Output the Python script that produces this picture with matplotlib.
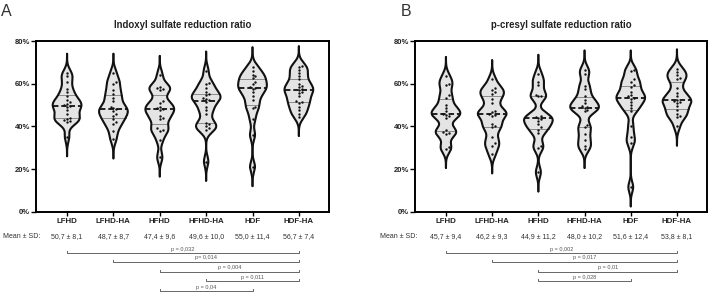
import numpy as np
import matplotlib.pyplot as plt
from matplotlib.transforms import blended_transform_factory

plt.rcParams['font.family'] = ['Liberation Sans', 'DejaVu Sans']

W, H = 709, 293

groups = ['LFHD', 'LFHD-HA', 'HFHD', 'HFHD-HA', 'HDF', 'HDF-HA']

# Panel A: indoxyl sulfate reduction ratio (%)
is_lfhd = [65, 63.5, 61, 57.5, 56, 54, 52.5, 51.5, 50.5, 50, 49.5, 49, 47.5, 46, 44, 43.5, 43, 42.5, 42, 35]
is_lfhd_ha = [65, 61, 60, 57, 55, 53.5, 52, 49, 48.5, 48, 47, 46, 45, 43.5, 42, 41, 38, 34]
is_hfhd = [64, 58.5, 58, 57.5, 57, 52, 51, 49, 48.5, 48, 47.5, 45, 44, 43.5, 39, 38.5, 38, 33.5, 25.5]
is_hfhd_ha = [66, 60.5, 60, 58, 56, 55, 54.5, 53.5, 53, 52.5, 51.5, 49, 47.5, 46, 41.5, 41, 40, 39, 38.5, 23.5]
is_hdf = [68, 66, 64, 63.5, 62.5, 61, 60, 58.5, 58, 57.5, 56, 54, 52.5, 49, 48.5, 43.5, 36, 21]
is_hdf_ha = [68.5, 68, 66.5, 65, 63.5, 62, 60, 59, 58.5, 57.5, 57, 56, 55.5, 54, 52, 51.5, 51, 49, 47.5, 46, 44.5]
is_mean_sd = ['50,7 ± 8,1', '48,7 ± 8,7', '47,4 ± 9,6', '49,6 ± 10,0', '55,0 ± 11,4', '56,7 ± 7,4']
is_pairs = [(1, 6), (2, 6), (3, 6), (4, 6), (3, 5)]
is_pvals = ['p = 0,032', 'p= 0,014', 'p = 0,004', 'p = 0,011', 'p = 0,04']

# Panel B: p-cresyl sulfate reduction ratio (%)
pcs_lfhd = [63.5, 60, 59.5, 54.5, 53.5, 50, 48.5, 47, 46, 45.5, 45, 44, 38.5, 37.5, 37, 36.5, 30.5, 29.5]
pcs_lfhd_ha = [62, 58, 57, 56, 55, 53, 51, 47, 46.5, 46, 45.5, 45, 41, 40, 39.5, 35, 32, 31, 27]
pcs_hfhd = [64.5, 61, 59.5, 54.5, 54, 54, 45, 44.5, 44, 43.5, 42.5, 41, 39.5, 38.5, 37, 31, 30, 18.5]
pcs_hfhd_ha = [66.5, 64.5, 59, 57.5, 54, 52.5, 51, 49.5, 49, 48.5, 47.5, 47, 40.5, 39.5, 36.5, 33.5, 31, 29.5]
pcs_hdf = [66.5, 66, 62, 61, 59.5, 58.5, 56, 54.5, 54, 53.5, 53, 51.5, 50, 48.5, 47, 40, 35, 32, 11.5]
pcs_hdf_ha = [67, 65.5, 64, 62.5, 62, 58, 55.5, 54, 52.5, 52, 51.5, 51, 49.5, 47.5, 46, 45, 44.5, 40]
pcs_mean_sd = ['45,7 ± 9,4', '46,2 ± 9,3', '44,9 ± 11,2', '48,0 ± 10,2', '51,6 ± 12,4', '53,8 ± 8,1']
pcs_pairs = [(1, 6), (2, 6), (3, 6), (3, 5)]
pcs_pvals = ['p = 0,002', 'p = 0,017', 'p = 0,01', 'p = 0,028']


def fx(px):
    return px / W


def fy(py):
    return 1 - py / H


def swarm(vals, dy=1.25, dx=0.06):
    # simple column scatter so dots do not sit on top of each other
    vals = np.asarray(vals, float)
    offs = np.zeros(len(vals))
    placed = []
    for i in np.argsort(vals):
        for k in range(30):
            cand = ((k + 1) // 2) * dx * (1 if k % 2 else -1)
            if all(abs(vals[i] - vals[j]) >= dy or abs(cand - offs[j]) >= dx * 0.99 for j in placed):
                break
        offs[i] = cand
        placed.append(i)
    return offs


def violin(ax, x, vals, bw=2.5, half_w=0.31):
    vals = np.asarray(vals, float)
    grid = np.linspace(vals.min() - 3.6 * bw, vals.max() + 3.6 * bw, 400)
    dens = np.exp(-0.5 * ((grid[None, :] - vals[:, None]) / bw) ** 2).sum(axis=0)
    half = dens / dens.max() * half_w
    ax.fill_betweenx(grid, x - half, x + half, color='#e4e4e4', lw=0, zorder=1)
    ax.plot(x - half, grid, color='#111111', lw=1.5, zorder=3, solid_capstyle='round')
    ax.plot(x + half, grid, color='#111111', lw=1.5, zorder=3, solid_capstyle='round')
    q1, med, q3 = np.percentile(vals, [25, 50, 75])
    for q in (q1, q3):
        w = np.interp(q, grid, half)
        ax.plot([x - w, x + w], [q, q], color='#8c8c8c', lw=0.7, zorder=2)
    w = np.interp(med, grid, half)
    ax.plot([x - w, x + w], [med, med], color='#111111', lw=1.3, dashes=(3, 1.6), zorder=4)
    ax.scatter(x + swarm(vals), vals, s=3, color='#111111', lw=0, zorder=5)


def panel(left_px, width_px, data, title, letter, letter_px, mean_sd, msd_px, pairs, pvals):
    ax = fig.add_axes([fx(left_px), fy(211.7), fx(width_px), 170.7 / H])
    pos = np.arange(1, 7)
    for p, vals in zip(pos, data):
        violin(ax, p, vals)
    ax.set_xlim(0.33, 6.65)
    ax.set_ylim(0, 80)
    ax.set_yticks([0, 20, 40, 60, 80])
    ax.set_yticklabels([f'{v}%' for v in [0, 20, 40, 60, 80]], fontsize=5.5, fontweight='bold', color='#222222')
    ax.set_xticks(pos)
    ax.set_xticklabels(groups, fontsize=5.7, fontweight='bold', color='#222222')
    ax.tick_params(axis='y', length=3.5, width=1.0, pad=0.8)
    ax.tick_params(axis='x', length=2.8, width=1.0, pad=1.5)
    for s in ax.spines.values():
        s.set_linewidth(1.4)
    ax.set_title(title, fontsize=6.9, fontweight='bold', color='#222222', pad=9)

    tr = blended_transform_factory(ax.transData, fig.transFigure)
    fig.text(fx(letter_px), fy(11), letter, fontsize=11.5, color='#333333', va='center', ha='left')
    fig.text(fx(msd_px), fy(237), 'Mean ± SD:', fontsize=5, color='#333333', va='center', ha='left')
    for p, t in zip(pos, mean_sd):
        ax.text(p, fy(237), t, transform=tr, fontsize=5, color='#333333', va='center', ha='center')

    rows = [253.3, 262.3, 271.5, 281.3, 291.3]
    for (a, b), t, py in zip(pairs, pvals, rows):
        y = fy(py)
        tk = 2.0 / H
        ax.plot([a, a, b, b], [y + tk, y, y, y + tk], transform=tr, color='#666666', lw=0.7, clip_on=False)
        ax.text((a + b) / 2, y + 4.3 / H, t, transform=tr, fontsize=4.0, color='#555555', va='center', ha='center')
    return ax


fig = plt.figure(figsize=(W / 100, H / 100), dpi=100)

panel(36, 293, [is_lfhd, is_lfhd_ha, is_hfhd, is_hfhd_ha, is_hdf, is_hdf_ha],
      'Indoxyl sulfate reduction ratio', 'A', 1, is_mean_sd, 3, is_pairs, is_pvals)
panel(415, 292, [pcs_lfhd, pcs_lfhd_ha, pcs_hfhd, pcs_hfhd_ha, pcs_hdf, pcs_hdf_ha],
      'p-cresyl sulfate reduction ratio', 'B', 401, pcs_mean_sd, 380, pcs_pairs, pcs_pvals)

fig.savefig('out.png', dpi=100, facecolor='white')
